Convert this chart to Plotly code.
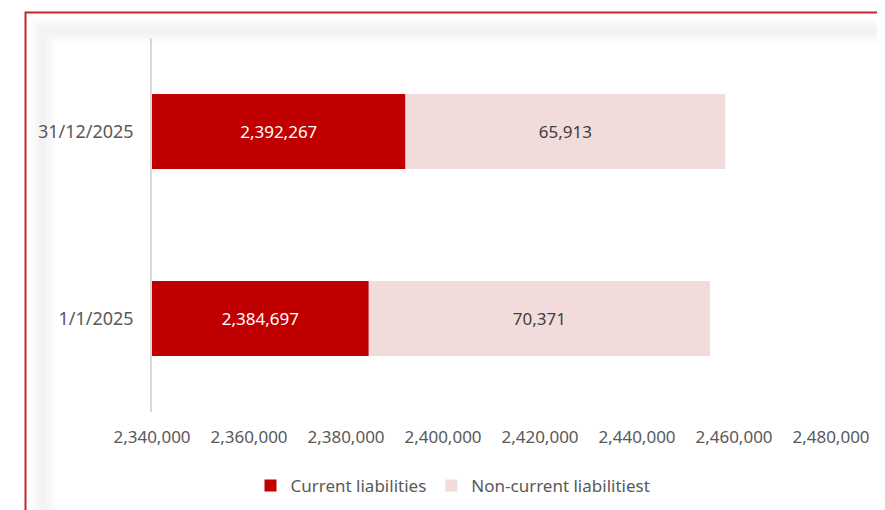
import plotly.graph_objects as go

categories = ["1/1/2025", "31/12/2025"]
current_liabilities = [2384697, 2392267]
non_current_liabilities = [70371, 65913]
x_ticks = [2340000, 2360000, 2380000, 2400000, 2420000, 2440000, 2460000, 2480000]

axis_min = x_ticks[0]
axis_max = x_ticks[-1]

W, H = 885, 510
OFF = 7  # page offset of the figure inside the browser window
# plot area in screen pixels
SL, SR, ST, SB = 151, 830, 37, 411
L, T = SL - OFF, ST - OFF
R, B = W - (SR - OFF), H - (SB - OFF)
pw, ph = SR - SL, SB - ST

def px(x):
    return (x - SL) / pw

def py(y):
    return (SB - y) / ph

FONT = "Noto Sans"
GRAY = "#595959"

fig = go.Figure()
fig.add_trace(go.Bar(
    y=categories,
    x=[v - axis_min for v in current_liabilities],
    base=[axis_min] * len(categories),
    orientation="h",
    name="Current liabilities",
    marker=dict(color="#C00000", line=dict(width=0)),
    text=[f"{v:,}" for v in current_liabilities],
    textposition="inside",
    insidetextanchor="middle",
    textangle=0,
    textfont=dict(color="white", size=17, family=FONT),
    hoverinfo="skip",
))
fig.add_trace(go.Bar(
    y=categories,
    x=non_current_liabilities,
    base=current_liabilities,
    orientation="h",
    name="Non-current liabilitiest",
    marker=dict(color="#F2DCDB", line=dict(width=0)),
    text=[f"{v:,}" for v in non_current_liabilities],
    textposition="inside",
    insidetextanchor="middle",
    textangle=0,
    textfont=dict(color="#404040", size=17, family=FONT),
    hoverinfo="skip",
))

shapes = []
# soft inner shadow
for w_ in (24, 16, 8):
    shapes.append(dict(
        type="rect", xref="paper", yref="paper",
        x0=px(42), x1=px(960), y0=py(600), y1=py(30),
        line=dict(color="rgba(0,0,0,0.014)", width=w_),
        fillcolor="rgba(0,0,0,0)", layer="below",
    ))
# red frame
shapes.append(dict(
    type="rect", xref="paper", yref="paper",
    x0=px(24.5), x1=px(920), y0=py(560), y1=py(11.5),
    line=dict(color="#C4262E", width=2),
    fillcolor="rgba(0,0,0,0)", layer="above",
))

fig.update_layout(
    width=W, height=H,
    margin=dict(l=L, r=R, t=T, b=B, pad=0),
    paper_bgcolor="white",
    plot_bgcolor="rgba(0,0,0,0)",
    barmode="overlay",
    bargap=0.6,
    font=dict(family=FONT, color=GRAY, size=17),
    showlegend=True,
    legend=dict(
        orientation="h", x=px(452), xanchor="center",
        y=py(485), yanchor="middle",
        font=dict(size=17, color=GRAY, family=FONT),
        traceorder="normal", itemwidth=30,
        bgcolor="rgba(0,0,0,0)",
    ),
    shapes=shapes,
    xaxis=dict(
        range=[axis_min, axis_max],
        tickvals=x_ticks,
        ticktext=[f"{v:,}" for v in x_ticks],
        showgrid=False, zeroline=False, showline=False,
        ticks="", ticklabelstandoff=13,
        tickfont=dict(size=17, color=GRAY, family=FONT),
        fixedrange=True,
    ),
    yaxis=dict(
        categoryorder="array", categoryarray=categories,
        showgrid=False, zeroline=False,
        showline=True, linecolor="#D9D9D9", linewidth=1.5,
        ticks="", ticklabelstandoff=13,
        tickfont=dict(size=18, color=GRAY, family=FONT),
        fixedrange=True,
    ),
)

fig.write_html("out.html", config={"displayModeBar": False})
